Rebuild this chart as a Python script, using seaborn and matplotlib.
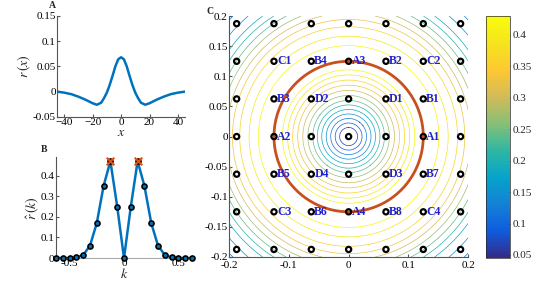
import numpy as np
import pandas as pd
import matplotlib
matplotlib.use("Agg")
import matplotlib.pyplot as plt
from matplotlib.colors import LinearSegmentedColormap, Normalize
import seaborn as sns

# panel A: r(x)
x_vals = [-45, -40, -35, -30, -25, -20, -17, -14, -12, -10, -8, -6, -4, -2, 0,
          2, 4, 6, 8, 10, 12, 14, 17, 20, 25, 30, 35, 40, 45]
r_vals = [0.0, -0.002, -0.005, -0.010, -0.016, -0.023, -0.026, -0.022, -0.013, -0.002,
          0.013, 0.031, 0.050, 0.064, 0.068,
          0.064, 0.050, 0.031, 0.013, -0.002, -0.013, -0.022, -0.026, -0.023, -0.016,
          -0.010, -0.005, -0.002, 0.0]

# panel B: r_hat(k) sampled at k = n/16
k_vals = [n / 16 for n in range(-10, 11)]
rhat_half = [0.0, 0.25, 0.47, 0.35, 0.17, 0.06, 0.015, 0.003, 0.0, 0.0, 0.0]
rhat_vals = rhat_half[:0:-1] + rhat_half
peak_k = [-0.125, 0.125]
peak_r = [0.47, 0.47]

# panel C: grid of sample points and labels
grid_k = [n / 16 for n in range(-3, 4)]
label_pts = [
    ("C1", -0.125, 0.125), ("B4", -0.0625, 0.125), ("A3", 0.0, 0.125),
    ("B2", 0.0625, 0.125), ("C2", 0.125, 0.125),
    ("B3", -0.125, 0.0625), ("D2", -0.0625, 0.0625), ("D1", 0.0625, 0.0625),
    ("B1", 0.125, 0.0625),
    ("A2", -0.125, 0.0), ("A1", 0.125, 0.0),
    ("B5", -0.125, -0.0625), ("D4", -0.0625, -0.0625), ("D3", 0.0625, -0.0625),
    ("B7", 0.125, -0.0625),
    ("C3", -0.125, -0.125), ("B6", -0.0625, -0.125), ("A4", 0.0, -0.125),
    ("B8", 0.0625, -0.125), ("C4", 0.125, -0.125),
]
ring_radius = 0.125

parula = LinearSegmentedColormap.from_list("parula", [
    "#352A87", "#0F5CDD", "#1481D6", "#06A4CA", "#2EB7A4",
    "#87BF77", "#D1BB59", "#FEC832", "#F5E41D", "#F9FB0E"])

sns.set_style("ticks")
plt.rcParams["font.family"] = ["Liberation Serif", "DejaVu Serif"]
plt.rcParams["mathtext.fontset"] = "stix"
plt.rcParams["font.size"] = 8
plt.rcParams["xtick.direction"] = "in"
plt.rcParams["ytick.direction"] = "in"
plt.rcParams["xtick.major.size"] = 2
plt.rcParams["ytick.major.size"] = 2

blue = "#0072BD"
orange = "#D95319"
spine_c = "#555555"

fig = plt.figure(figsize=(5.38, 2.83), dpi=100)
axA = fig.add_axes([0.106, 0.587, 0.238, 0.357])
axB = fig.add_axes([0.104, 0.088, 0.253, 0.357])
axC = fig.add_axes([0.426, 0.092, 0.444, 0.851])
cax = fig.add_axes([0.903, 0.088, 0.045, 0.855])

# ---- A
dfA = pd.DataFrame({"x": x_vals, "r": r_vals})
sns.lineplot(data=dfA, x="x", y="r", ax=axA, color=blue, lw=1.8)
axA.set_xlim(-45, 45)
axA.set_ylim(-0.05, 0.15)
axA.set_xticks([-40, -20, 0, 20, 40])
axA.set_yticks([-0.05, 0, 0.05, 0.1, 0.15])
axA.set_yticklabels(["-0.05", "0", "0.05", "0.1", "0.15"])
axA.set_xlabel("$x$", fontsize=10, labelpad=-1)
axA.set_ylabel("$r\\,(x)$", fontsize=10, labelpad=0)
axA.text(-0.06, 1.08, "A", transform=axA.transAxes, fontsize=7, fontweight="bold")

# ---- B
dfB = pd.DataFrame({"k": k_vals, "r": rhat_vals})
sns.lineplot(data=dfB, x="k", y="r", ax=axB, color=blue, lw=1.8)
sns.scatterplot(data=dfB, x="k", y="r", ax=axB, color=blue, edgecolor="black",
                linewidth=1.2, s=13, zorder=3, clip_on=False)
sns.scatterplot(x=peak_k, y=peak_r, ax=axB, marker="x", color=orange, s=30,
                linewidth=1.5, zorder=4, clip_on=False)
axB.set_xlim(-0.625, 0.625)
axB.set_ylim(0, 0.49)
axB.set_xticks([-0.5, 0, 0.5])
axB.set_xticklabels(["-0.5", "0", "0.5"])
axB.set_yticks([0, 0.1, 0.2, 0.3, 0.4])
axB.set_yticklabels(["0", "0.1", "0.2", "0.3", "0.4"])
axB.set_xlabel("$k$", fontsize=10, labelpad=-1)
axB.set_ylabel("$\\hat{r}\\,(k)$", fontsize=10, labelpad=0)
axB.text(-0.11, 1.05, "B", transform=axB.transAxes, fontsize=7, fontweight="bold")

# ---- C: radial field built from the panel B profile
g = np.linspace(-0.2, 0.2, 401)
KX, KY = np.meshgrid(g, g)
rad = np.sqrt(KX ** 2 + KY ** 2)
field = np.interp(rad, k_vals[10:], rhat_half)
norm = Normalize(vmin=0.045, vmax=0.43)
levels = np.arange(0.06, 0.44, 0.03)
axC.contour(KX, KY, field, levels=levels, cmap=parula, norm=norm, linewidths=0.5)
theta = np.linspace(0, 2 * np.pi, 300)
axC.plot(ring_radius * np.cos(theta), ring_radius * np.sin(theta), color="#C8501E", lw=2)
gx, gy = np.meshgrid(grid_k, grid_k)
sns.scatterplot(x=gx.ravel(), y=gy.ravel(), ax=axC, facecolor="none", edgecolor="black",
                linewidth=1.6, s=14, zorder=5, clip_on=False)
for name, px, py in label_pts:
    axC.text(px + 0.005, py, name, color="#2020D0", fontsize=8.5, fontweight="bold",
             va="center", ha="left", zorder=6)
axC.set_xlim(-0.2, 0.2)
axC.set_ylim(-0.2, 0.2)
axC.set_xticks([-0.2, -0.1, 0, 0.1, 0.2])
axC.set_xticklabels(["-0.2", "-0.1", "0", "0.1", "0.2"])
axC.set_yticks([-0.2, -0.15, -0.1, -0.05, 0, 0.05, 0.1, 0.15, 0.2])
axC.set_yticklabels(["-0.2", "-0.15", "-0.1", "-0.05", "0", "0.05", "0.1", "0.15", "0.2"])
axC.text(-0.095, 1.01, "C", transform=axC.transAxes, fontsize=7, fontweight="bold")

for ax in (axA, axB, axC):
    sns.despine(ax=ax)
    for s in ("left", "bottom"):
        ax.spines[s].set_color(spine_c)
        ax.spines[s].set_linewidth(0.8)
    ax.tick_params(colors=spine_c, labelcolor="black", labelsize=8, pad=1)
axB.spines["bottom"].set_color("#aaaaaa")
axC.tick_params(axis="x", pad=3)

sm = plt.cm.ScalarMappable(norm=norm, cmap=parula)
cb = fig.colorbar(sm, cax=cax)
cb.set_ticks([0.05, 0.1, 0.15, 0.2, 0.25, 0.3, 0.35, 0.4])
cb.set_ticklabels(["0.05", "0.1", "0.15", "0.2", "0.25", "0.3", "0.35", "0.4"])
cb.outline.set_linewidth(0.5)
cax.tick_params(direction="in", length=2, labelsize=8, pad=2)

fig.savefig("out.png", dpi=100)
